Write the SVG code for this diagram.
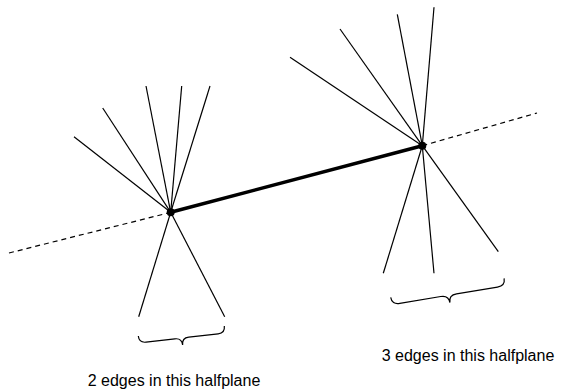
<svg xmlns="http://www.w3.org/2000/svg" width="567" height="390" viewBox="0 0 567 390">
<style>
.e{stroke:#000;stroke-width:1.2;fill:none}
.d{stroke:#000;stroke-width:1.2;stroke-dasharray:5,4;fill:none}
.t{stroke:#000;stroke-width:3.5;fill:none}
.b{stroke:#000;stroke-width:1.2;fill:none}
.v{fill:#000}
text{font-family:"Liberation Sans",Arial,sans-serif;font-size:16px;fill:#000;text-anchor:middle}
</style>
<rect width="567" height="390" fill="#fff"/>
<g id="connectors">
<line class="d" x1="9" y1="253" x2="171" y2="212.3"/>
<line class="d" x1="422.3" y1="145.7" x2="537" y2="113"/>
<line class="t" x1="170.7" y1="212.3" x2="422.3" y2="145.7"/>
</g>
<g id="left-vertex">
<line class="e" x1="170.7" y1="212.3" x2="74" y2="136.7"/>
<line class="e" x1="170.7" y1="212.3" x2="102.7" y2="108"/>
<line class="e" x1="170.7" y1="212.3" x2="146" y2="86"/>
<line class="e" x1="170.7" y1="212.3" x2="181.7" y2="86"/>
<line class="e" x1="170.7" y1="212.3" x2="210" y2="86"/>
<line class="e" x1="170.7" y1="212.3" x2="138.7" y2="316.7"/>
<line class="e" x1="170.7" y1="212.3" x2="224.7" y2="316.7"/>
<circle class="v" cx="170.7" cy="212.3" r="4"/>
</g>
<g id="right-vertex">
<line class="e" x1="422.3" y1="145.7" x2="290" y2="57.3"/>
<line class="e" x1="422.3" y1="145.7" x2="340" y2="29"/>
<line class="e" x1="422.3" y1="145.7" x2="397.3" y2="14.3"/>
<line class="e" x1="422.3" y1="145.7" x2="434" y2="7.3"/>
<line class="e" x1="422.3" y1="145.7" x2="383.3" y2="273.3"/>
<line class="e" x1="422.3" y1="145.7" x2="434" y2="273.3"/>
<line class="e" x1="422.3" y1="145.7" x2="498.3" y2="251.7"/>
<circle class="v" cx="422.3" cy="145.7" r="4"/>
</g>
<g id="left-brace">
<path class="b" transform="translate(138.3,336) rotate(-6.6)" d="M0,0 Q0,7 7,7 L36,7 Q43,7 43,14 Q43,7 50,7 L79.6,7 Q86.6,7 86.6,0"/>
<text x="174" y="386">2 edges in this halfplane</text>
</g>
<g id="right-brace">
<path class="b" transform="translate(390.7,297.3) rotate(-9.5)" d="M0,0 Q0,7.5 8,7.5 L49.5,7.5 Q57.5,7.5 57.5,15 Q57.5,7.5 65.5,7.5 L107,7.5 Q115,7.5 115,0"/>
<text x="468" y="361">3 edges in this halfplane</text>
</g>
</svg>
